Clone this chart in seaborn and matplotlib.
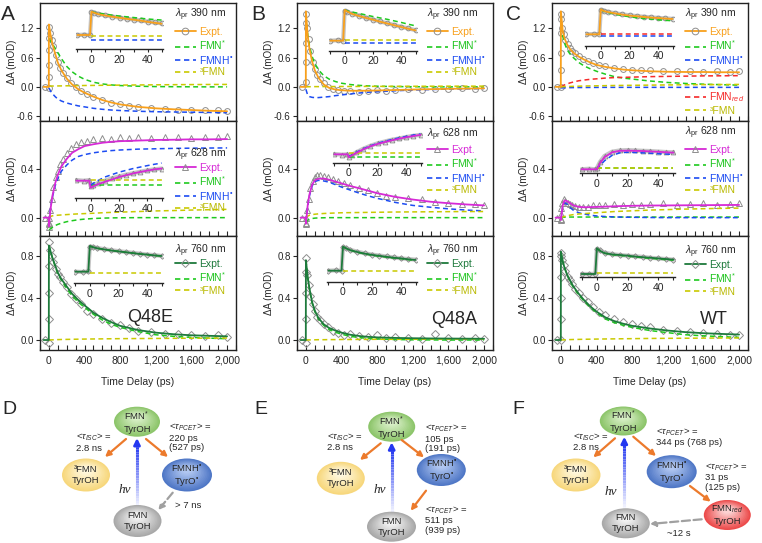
import numpy as np
import matplotlib
matplotlib.use('Agg')
import matplotlib.pyplot as plt
import seaborn as sns
from matplotlib.lines import Line2D
from matplotlib.patches import Ellipse
from matplotlib.ticker import FuncFormatter, MultipleLocator, FixedLocator
from matplotlib.collections import LineCollection
from matplotlib.colors import to_rgb

# ---- time grids (ps) ----
t_main = [-60, -1, 0, 20, 40, 70, 100, 140, 200, 260, 330, 400, 500, 600, 700, 800,
          1000, 1200, 1400, 1600, 1800, 2000]
t_comp = t_main[2:]
t_mark = [-40, 0, 15, 30, 50, 75, 100, 130, 160, 200, 250, 300, 360, 430, 500, 600, 700,
          800, 900, 1000, 1150, 1300, 1450, 1600, 1750, 1900, 2000]
t_inset = [-10, -5, -1, 0, 2, 5, 10, 15, 20, 25, 30, 35, 40, 45, 50]
t_inset_comp = t_inset[3:]

# ---- Q48E ----
a390_fit = [0, 0, 1.28, 1.05, 0.88, 0.68, 0.5, 0.34, 0.17, 0.05, -0.05, -0.12, -0.2, -0.27, -0.32, -0.36, -0.41, -0.44, -0.46, -0.475, -0.49, -0.50]
a390_pts = [0.0, 1.22, 1.1, 0.97, 0.83, 0.66, 0.52, 0.38, 0.28, 0.18, 0.07, 0.0, -0.08, -0.15, -0.21, -0.27, -0.33, -0.36, -0.39, -0.41, -0.43, -0.45, -0.47, -0.47, -0.48, -0.48, -0.49]
a390_rise = [-0.03, 0.2, 0.45, 0.75, 1.0]
a390_fmn = [1.0, 0.94, 0.88, 0.79, 0.7, 0.58, 0.42, 0.31, 0.22, 0.155, 0.095, 0.06, 0.04, 0.027, 0.013, 0.006, 0.003, 0.001, 0.0, 0.0]
a390_fmnh = [-0.02, -0.09, -0.14, -0.2, -0.25, -0.29, -0.33, -0.36, -0.39, -0.41, -0.44, -0.46, -0.475, -0.485, -0.5, -0.51, -0.515, -0.52, -0.525, -0.53]
a390_t3 = [0.015, 0.016, 0.017, 0.018, 0.019, 0.02, 0.022, 0.024, 0.026, 0.028, 0.03, 0.032, 0.034, 0.036, 0.039, 0.042, 0.045, 0.047, 0.049, 0.05]
a390_in_fit = [0, 0, 0, 1.28, 1.22, 1.14, 1.07, 1.0, 0.95, 0.89, 0.84, 0.79, 0.72, 0.67, 0.62]
a390_in_pts = [0.0, 0.02, -0.01, 1.25, 1.23, 1.15, 1.08, 1.01, 0.96, 0.9, 0.85, 0.8, 0.74, 0.69, 0.64]
a390_in_fmn = [1.28, 1.24, 1.2, 1.14, 1.09, 1.04, 1.0, 0.96, 0.92, 0.88, 0.85, 0.82]
a390_in_fmnh = [-0.25, -0.25, -0.25, -0.25, -0.25, -0.25, -0.25, -0.25, -0.25, -0.25, -0.25, -0.25]
a390_in_t3 = [-0.04, -0.04, -0.04, -0.04, -0.04, -0.04, -0.04, -0.04, -0.04, -0.04, -0.04, -0.04]

a628_fit = [0, 0, -0.07, 0.08, 0.18, 0.28, 0.35, 0.42, 0.48, 0.53, 0.56, 0.585, 0.6, 0.612, 0.62, 0.625, 0.63, 0.635, 0.637, 0.64, 0.64, 0.642]
a628_pts = [0.0, -0.05, 0.06, 0.15, 0.25, 0.33, 0.38, 0.44, 0.48, 0.53, 0.57, 0.6, 0.62, 0.63, 0.64, 0.65, 0.645, 0.66, 0.65, 0.66, 0.65, 0.66, 0.66, 0.65, 0.66, 0.66, 0.67]
a628_rise = [-0.08, -0.04, 0.0]
a628_fmn = [-0.10, -0.09, -0.08, -0.065, -0.055, -0.045, -0.033, -0.025, -0.017, -0.012, -0.007, -0.004, -0.002, -0.001, 0.0, 0.0, 0.0, 0.0, 0.0, 0.0]
a628_fmnh = [-0.03, 0.09, 0.17, 0.26, 0.32, 0.38, 0.43, 0.47, 0.5, 0.515, 0.53, 0.54, 0.548, 0.553, 0.56, 0.563, 0.566, 0.568, 0.569, 0.57]
a628_t3 = [0.0, 0.01, 0.015, 0.018, 0.02, 0.022, 0.025, 0.028, 0.031, 0.033, 0.036, 0.04, 0.043, 0.045, 0.05, 0.055, 0.058, 0.062, 0.065, 0.068]
a628_in_fit = [0, 0, 0, -0.058, -0.045, -0.03, -0.01, 0.01, 0.03, 0.045, 0.06, 0.072, 0.083, 0.093, 0.10]
a628_in_pts = [0.005, 0.0, 0.005, -0.045, -0.035, -0.02, 0.0, 0.02, 0.035, 0.05, 0.062, 0.074, 0.085, 0.094, 0.1]
a628_in_fmn = [-0.035, -0.035, -0.035, -0.035, -0.035, -0.035, -0.035, -0.035, -0.035, -0.035, -0.035, -0.035]
a628_in_fmnh = [-0.035, -0.02, 0.0, 0.03, 0.05, 0.07, 0.085, 0.1, 0.112, 0.124, 0.135, 0.145]
a628_in_t3 = [0.005, 0.005, 0.005, 0.005, 0.005, 0.005, 0.005, 0.005, 0.005, 0.005, 0.005, 0.005]

a760_fit = [0, 0, 0.90, 0.84, 0.78, 0.71, 0.64, 0.58, 0.51, 0.44, 0.38, 0.33, 0.26, 0.21, 0.17, 0.135, 0.095, 0.07, 0.055, 0.045, 0.04, 0.035]
a760_pts = [0.0, 0.93, 0.86, 0.8, 0.74, 0.68, 0.63, 0.6, 0.55, 0.5, 0.44, 0.39, 0.34, 0.28, 0.25, 0.2, 0.16, 0.14, 0.11, 0.09, 0.08, 0.06, 0.06, 0.05, 0.04, 0.05, 0.03]
a760_rise = [-0.03, 0.2, 0.45, 0.7]
a760_fmn = [0.90, 0.84, 0.78, 0.7, 0.63, 0.57, 0.49, 0.42, 0.36, 0.31, 0.245, 0.19, 0.15, 0.12, 0.08, 0.05, 0.035, 0.025, 0.018, 0.012]
a760_t3 = [0.0, 0.001, 0.002, 0.003, 0.004, 0.005, 0.006, 0.007, 0.008, 0.009, 0.01, 0.011, 0.012, 0.013, 0.014, 0.015, 0.016, 0.017, 0.018, 0.019]
a760_in_fit = [0, 0, 0, 0.9, 0.86, 0.82, 0.78, 0.74, 0.71, 0.68, 0.65, 0.62, 0.6, 0.57, 0.55]
a760_in_pts = [0.0, -0.01, 0.01, 0.88, 0.87, 0.83, 0.79, 0.75, 0.72, 0.69, 0.66, 0.63, 0.6, 0.58, 0.55]
a760_in_fmn = [0.9, 0.86, 0.82, 0.78, 0.74, 0.71, 0.68, 0.65, 0.62, 0.59, 0.57, 0.54]
a760_in_t3 = [-0.03, -0.03, -0.03, -0.03, -0.03, -0.03, -0.03, -0.03, -0.03, -0.03, -0.03, -0.03]

# ---- Q48A ----
b390_fit = [0, 0, 1.55, 1.05, 0.78, 0.52, 0.34, 0.19, 0.05, -0.02, -0.055, -0.07, -0.08, -0.08, -0.078, -0.074, -0.065, -0.055, -0.047, -0.04, -0.035, -0.03]
b390_pts = [0.0, 1.5, 1.2, 0.98, 0.74, 0.52, 0.36, 0.24, 0.16, 0.07, 0.0, -0.04, -0.06, -0.08, -0.08, -0.1, -0.08, -0.07, -0.09, -0.06, -0.05, -0.07, -0.04, -0.05, -0.03, -0.04, -0.03]
b390_rise = [0.1, 0.5, 0.9, 1.3]
b390_fmn = [1.45, 1.08, 0.84, 0.62, 0.48, 0.35, 0.23, 0.16, 0.11, 0.075, 0.047, 0.03, 0.02, 0.013, 0.006, 0.003, 0.001, 0.0, 0.0, 0.0]
b390_fmnh = [-0.05, -0.17, -0.2, -0.215, -0.22, -0.22, -0.21, -0.2, -0.18, -0.165, -0.145, -0.125, -0.11, -0.1, -0.08, -0.065, -0.055, -0.045, -0.04, -0.035]
b390_t3 = [0.0, 0.002, 0.003, 0.004, 0.005, 0.005, 0.006, 0.006, 0.007, 0.008, 0.008, 0.009, 0.01, 0.01, 0.011, 0.012, 0.013, 0.014, 0.014, 0.015]
b390_in_fit = [0, 0, 0, 1.55, 1.47, 1.36, 1.25, 1.15, 1.06, 0.96, 0.87, 0.78, 0.69, 0.6, 0.52]
b390_in_pts = [0.0, 0.02, 0.0, 1.5, 1.46, 1.37, 1.27, 1.16, 1.07, 0.97, 0.88, 0.79, 0.7, 0.62, 0.53]
b390_in_fmn = [1.55, 1.5, 1.45, 1.38, 1.3, 1.22, 1.15, 1.08, 1.0, 0.92, 0.83, 0.75]
b390_in_fmnh = [-0.1, -0.1, -0.1, -0.1, -0.1, -0.1, -0.1, -0.1, -0.1, -0.1, -0.1, -0.1]
b390_in_t3 = [0.03, 0.03, 0.03, 0.03, 0.03, 0.03, 0.03, 0.03, 0.03, 0.03, 0.03, 0.03]

b628_fit = [0, 0, -0.05, 0.1, 0.19, 0.27, 0.305, 0.318, 0.32, 0.31, 0.295, 0.28, 0.258, 0.24, 0.22, 0.2, 0.17, 0.148, 0.13, 0.118, 0.108, 0.1]
b628_pts = [0.0, -0.04, 0.06, 0.15, 0.24, 0.3, 0.33, 0.345, 0.35, 0.34, 0.33, 0.32, 0.3, 0.28, 0.27, 0.24, 0.23, 0.2, 0.18, 0.17, 0.16, 0.15, 0.13, 0.12, 0.11, 0.11, 0.1]
b628_rise = [-0.05, 0.0]
b628_fmn = [-0.04, -0.02, -0.012, -0.007, -0.004, -0.002, -0.001, 0.0, 0.0, 0.0, 0.0, 0.0, 0.0, 0.0, 0.0, 0.0, 0.0, 0.0, 0.0, 0.0]
b628_fmnh = [-0.03, 0.09, 0.18, 0.26, 0.295, 0.305, 0.3, 0.29, 0.27, 0.25, 0.225, 0.2, 0.178, 0.158, 0.125, 0.1, 0.085, 0.072, 0.062, 0.055]
b628_t3 = [0.0, 0.012, 0.02, 0.025, 0.028, 0.031, 0.034, 0.036, 0.038, 0.04, 0.041, 0.042, 0.043, 0.044, 0.046, 0.047, 0.048, 0.049, 0.05, 0.05]
b628_in_fit = [0, 0, 0, -0.025, -0.01, 0.01, 0.04, 0.065, 0.085, 0.1, 0.115, 0.128, 0.14, 0.15, 0.16]
b628_in_pts = [0.003, -0.003, 0.0, -0.02, -0.005, 0.015, 0.045, 0.07, 0.09, 0.105, 0.12, 0.13, 0.142, 0.152, 0.16]
b628_in_fmn = [-0.02, -0.02, -0.02, -0.02, -0.02, -0.02, -0.02, -0.02, -0.02, -0.02, -0.02, -0.02]
b628_in_fmnh = [-0.02, -0.005, 0.015, 0.045, 0.07, 0.09, 0.107, 0.122, 0.135, 0.147, 0.158, 0.167]
b628_in_t3 = [0.008, 0.008, 0.008, 0.008, 0.008, 0.008, 0.008, 0.008, 0.008, 0.008, 0.008, 0.008]

b760_fit = [0, 0, 0.76, 0.6, 0.49, 0.36, 0.28, 0.21, 0.15, 0.115, 0.09, 0.07, 0.05, 0.038, 0.03, 0.025, 0.02, 0.017, 0.015, 0.014, 0.013, 0.012]
b760_pts = [0.0, 0.78, 0.62, 0.52, 0.42, 0.34, 0.28, 0.22, 0.19, 0.15, 0.12, 0.09, 0.07, 0.05, 0.06, 0.04, 0.03, 0.05, 0.02, 0.03, 0.02, 0.01, 0.06, 0.02, 0.01, 0.02, 0.01]
b760_rise = [-0.03, 0.2, 0.45, 0.65]
b760_fmn = [0.76, 0.6, 0.48, 0.35, 0.27, 0.2, 0.14, 0.1, 0.075, 0.055, 0.035, 0.023, 0.015, 0.01, 0.005, 0.002, 0.001, 0.0, 0.0, 0.0]
b760_t3 = [0.0, 0.001, 0.001, 0.002, 0.002, 0.003, 0.003, 0.004, 0.004, 0.005, 0.005, 0.006, 0.006, 0.007, 0.007, 0.008, 0.008, 0.009, 0.009, 0.01]
b760_in_fit = [0, 0, 0, 0.76, 0.71, 0.65, 0.59, 0.54, 0.5, 0.47, 0.44, 0.41, 0.39, 0.36, 0.34]
b760_in_pts = [0.0, 0.01, 0.0, 0.74, 0.72, 0.66, 0.6, 0.55, 0.51, 0.48, 0.45, 0.42, 0.39, 0.37, 0.35]
b760_in_fmn = [0.76, 0.71, 0.65, 0.58, 0.53, 0.49, 0.46, 0.43, 0.4, 0.38, 0.35, 0.33]
b760_in_t3 = [0.0, 0.0, 0.0, 0.0, 0.0, 0.0, 0.0, 0.0, 0.0, 0.0, 0.0, 0.0]

# ---- WT ----
c390_fit = [0, 0, 1.55, 1.15, 1.0, 0.87, 0.78, 0.7, 0.62, 0.56, 0.5, 0.45, 0.41, 0.38, 0.355, 0.34, 0.32, 0.31, 0.305, 0.305, 0.3, 0.3]
c390_pts = [0.0, 1.5, 1.2, 1.08, 0.97, 0.87, 0.8, 0.74, 0.69, 0.63, 0.58, 0.53, 0.49, 0.45, 0.42, 0.39, 0.37, 0.35, 0.34, 0.34, 0.33, 0.32, 0.33, 0.31, 0.32, 0.31, 0.32]
c390_rise = [0.0, 0.35, 0.7, 1.1, 1.4]
c390_fmn = [1.4, 1.05, 0.9, 0.76, 0.68, 0.6, 0.5, 0.43, 0.37, 0.32, 0.26, 0.21, 0.18, 0.16, 0.12, 0.09, 0.07, 0.055, 0.045, 0.035]
c390_fmnh = [-0.02, -0.02, -0.02, -0.018, -0.016, -0.015, -0.014, -0.013, -0.012, -0.011, -0.01, -0.01, -0.01, -0.01, -0.01, -0.01, -0.01, -0.01, -0.01, -0.01]
c390_red = [0.0, 0.02, 0.04, 0.06, 0.08, 0.1, 0.125, 0.14, 0.155, 0.165, 0.18, 0.19, 0.195, 0.2, 0.21, 0.215, 0.22, 0.225, 0.227, 0.23]
c390_t3 = [0.0, 0.003, 0.005, 0.007, 0.009, 0.011, 0.014, 0.017, 0.02, 0.022, 0.025, 0.028, 0.03, 0.032, 0.036, 0.04, 0.043, 0.046, 0.048, 0.05]
c390_in_fit = [0, 0, 0, 1.55, 1.45, 1.38, 1.3, 1.22, 1.16, 1.12, 1.08, 1.04, 1.01, 0.98, 0.95]
c390_in_pts = [0.0, 0.02, 0.01, 1.52, 1.46, 1.39, 1.31, 1.24, 1.18, 1.13, 1.09, 1.05, 1.02, 0.99, 0.96]
c390_in_fmn = [1.55, 1.43, 1.35, 1.25, 1.16, 1.09, 1.03, 0.98, 0.94, 0.9, 0.87, 0.84]
c390_in_fmnh = [-0.08, -0.08, -0.08, -0.08, -0.08, -0.08, -0.08, -0.08, -0.08, -0.08, -0.08, -0.08]
c390_in_red = [0.02, 0.02, 0.02, 0.02, 0.02, 0.02, 0.02, 0.02, 0.02, 0.02, 0.02, 0.02]

c628_fit = [0, 0, -0.02, 0.1, 0.14, 0.135, 0.12, 0.1, 0.088, 0.085, 0.086, 0.088, 0.09, 0.093, 0.095, 0.097, 0.099, 0.1, 0.101, 0.102, 0.103, 0.104]
c628_pts = [0.0, -0.01, 0.12, 0.15, 0.14, 0.12, 0.11, 0.1, 0.095, 0.09, 0.09, 0.09, 0.1, 0.1, 0.1, 0.11, 0.1, 0.11, 0.1, 0.11, 0.12, 0.1, 0.11, 0.12, 0.1, 0.11, 0.12]
c628_rise = [-0.02, 0.03, 0.08]
c628_fmn = [0.0, 0.003, 0.004, 0.005, 0.005, 0.005, 0.005, 0.005, 0.005, 0.005, 0.005, 0.005, 0.005, 0.005, 0.005, 0.005, 0.005, 0.005, 0.005, 0.005]
c628_fmnh = [-0.02, 0.09, 0.12, 0.11, 0.085, 0.06, 0.04, 0.03, 0.02, 0.014, 0.009, 0.006, 0.004, 0.003, 0.001, 0.0, 0.0, 0.0, 0.0, 0.0]
c628_t3 = [0.0, 0.005, 0.01, 0.015, 0.02, 0.025, 0.03, 0.033, 0.037, 0.04, 0.045, 0.05, 0.053, 0.056, 0.062, 0.066, 0.07, 0.073, 0.076, 0.078]
c628_in_fit = [0, 0, 0, 0.0, 0.05, 0.1, 0.14, 0.152, 0.153, 0.152, 0.15, 0.147, 0.144, 0.14, 0.137]
c628_in_pts = [0.0, 0.005, 0.0, 0.01, 0.06, 0.11, 0.145, 0.155, 0.158, 0.155, 0.152, 0.15, 0.146, 0.142, 0.14]
c628_in_fmn = [0.008, 0.008, 0.008, 0.008, 0.008, 0.008, 0.008, 0.008, 0.008, 0.008, 0.008, 0.008]
c628_in_fmnh = [0.0, 0.03, 0.07, 0.115, 0.135, 0.14, 0.138, 0.135, 0.132, 0.128, 0.125, 0.123]
c628_in_t3 = [0.013, 0.013, 0.013, 0.013, 0.013, 0.013, 0.013, 0.013, 0.013, 0.013, 0.013, 0.013]

c760_fit = [0, 0, 0.84, 0.75, 0.69, 0.62, 0.57, 0.51, 0.44, 0.38, 0.32, 0.27, 0.215, 0.18, 0.155, 0.135, 0.11, 0.09, 0.075, 0.065, 0.058, 0.052]
c760_pts = [0.0, 0.83, 0.76, 0.71, 0.66, 0.6, 0.57, 0.53, 0.49, 0.45, 0.4, 0.36, 0.31, 0.27, 0.24, 0.2, 0.17, 0.15, 0.13, 0.12, 0.1, 0.09, 0.08, 0.07, 0.06, 0.05, 0.05]
c760_rise = [0.0, 0.2, 0.4, 0.6, 0.8]
c760_fmn = [0.84, 0.75, 0.69, 0.62, 0.56, 0.5, 0.43, 0.37, 0.31, 0.26, 0.2, 0.165, 0.14, 0.12, 0.09, 0.07, 0.05, 0.04, 0.032, 0.025]
c760_t3 = [0.0, 0.001, 0.002, 0.003, 0.004, 0.005, 0.006, 0.007, 0.008, 0.009, 0.01, 0.011, 0.012, 0.013, 0.015, 0.016, 0.017, 0.018, 0.019, 0.02]
c760_in_fit = [0, 0, 0, 0.84, 0.76, 0.68, 0.64, 0.62, 0.6, 0.57, 0.55, 0.53, 0.51, 0.49, 0.47]
c760_in_pts = [0.0, 0.0, 0.01, 0.82, 0.77, 0.7, 0.65, 0.62, 0.6, 0.58, 0.56, 0.53, 0.51, 0.49, 0.47]
c760_in_fmn = [0.84, 0.76, 0.68, 0.63, 0.61, 0.58, 0.56, 0.53, 0.51, 0.49, 0.47, 0.45]
c760_in_t3 = [0.02, 0.02, 0.02, 0.02, 0.02, 0.02, 0.02, 0.02, 0.02, 0.02, 0.02, 0.02]

WAVES = [390, 628, 760]
VARIANTS = ['Q48E', 'Q48A', 'WT']

# ---- styles ----
C_OR, C_MAG, C_DKG = '#f8a01c', '#d62ad6', '#1e7a3c'
C_GRN, C_BLU, C_YEL, C_RED = '#1fc91f', '#1d4cf2', '#c9c900', '#f52a2a'
C_PTS = '#8e8e8e'
EXPT = {390: (C_OR, 'o', 4.2), 628: (C_MAG, '^', 4.2), 760: (C_DKG, 'D', 3.6)}
SERIES = {'fmn': (C_GRN, 'FMN$^{*}$', '#1cc41c'),
          'fmnh': (C_BLU, 'FMNH$^{•}$', C_BLU),
          't3': (C_YEL, '³FMN', '#b9b900'),
          'red': (C_RED, 'FMN$_{red}$', C_RED)}

def pack(fit, pts, rise, comps, in_fit, in_pts, in_comps):
    return dict(fit=fit, pts=pts, rise=rise, comps=comps,
                inset=dict(fit=in_fit, pts=in_pts, comps=in_comps))

PANELS = {
    'A': [pack(a390_fit, a390_pts, a390_rise, [('fmn', a390_fmn), ('fmnh', a390_fmnh), ('t3', a390_t3)],
               a390_in_fit, a390_in_pts, [('fmn', a390_in_fmn), ('fmnh', a390_in_fmnh), ('t3', a390_in_t3)]),
          pack(a628_fit, a628_pts, a628_rise, [('fmn', a628_fmn), ('fmnh', a628_fmnh), ('t3', a628_t3)],
               a628_in_fit, a628_in_pts, [('fmn', a628_in_fmn), ('fmnh', a628_in_fmnh), ('t3', a628_in_t3)]),
          pack(a760_fit, a760_pts, a760_rise, [('fmn', a760_fmn), ('t3', a760_t3)],
               a760_in_fit, a760_in_pts, [('fmn', a760_in_fmn), ('t3', a760_in_t3)])],
    'B': [pack(b390_fit, b390_pts, b390_rise, [('fmn', b390_fmn), ('fmnh', b390_fmnh), ('t3', b390_t3)],
               b390_in_fit, b390_in_pts, [('fmn', b390_in_fmn), ('fmnh', b390_in_fmnh), ('t3', b390_in_t3)]),
          pack(b628_fit, b628_pts, b628_rise, [('fmn', b628_fmn), ('fmnh', b628_fmnh), ('t3', b628_t3)],
               b628_in_fit, b628_in_pts, [('fmn', b628_in_fmn), ('fmnh', b628_in_fmnh), ('t3', b628_in_t3)]),
          pack(b760_fit, b760_pts, b760_rise, [('fmn', b760_fmn), ('t3', b760_t3)],
               b760_in_fit, b760_in_pts, [('fmn', b760_in_fmn), ('t3', b760_in_t3)])],
    'C': [pack(c390_fit, c390_pts, c390_rise, [('fmn', c390_fmn), ('fmnh', c390_fmnh), ('red', c390_red), ('t3', c390_t3)],
               c390_in_fit, c390_in_pts, [('fmn', c390_in_fmn), ('fmnh', c390_in_fmnh), ('red', c390_in_red)]),
          pack(c628_fit, c628_pts, c628_rise, [('fmn', c628_fmn), ('fmnh', c628_fmnh), ('t3', c628_t3)],
               c628_in_fit, c628_in_pts, [('fmn', c628_in_fmn), ('fmnh', c628_in_fmnh), ('t3', c628_in_t3)]),
          pack(c760_fit, c760_pts, c760_rise, [('fmn', c760_fmn), ('t3', c760_t3)],
               c760_in_fit, c760_in_pts, [('fmn', c760_in_fmn), ('t3', c760_in_t3)])],
}

# ---- layout (pixels) ----
W, H = 762, 543
COL_X = {'A': 40, 'B': 297, 'C': 552}
PW = 196
ROWS = [(3, 121), (121, 236), (236, 350)]
YLIMS = [(-0.70, 1.72), (-0.15, 0.79), (-0.095, 0.99)]
YTICKS = [[-0.6, 0.0, 0.6, 1.2], [0.0, 0.4], [0.0, 0.4, 0.8]]
# inset: x0, x1, y_axis, y_top, y_of_zero, px per unit
INSET = {'A': [(76, 163, 49, 8, 35, 18.2), (75, 163, 198, 160, 180.7, 121.75), (74, 163, 283.3, 240, 271.7, 28.6)],
         'B': [(329, 417, 50.7, 8, 40.7, 19.8), (333, 422, 162.7, 130, 154.3, 121.75), (327, 417, 281.7, 240, 270.7, 31.6)],
         'C': [(585, 674, 45.7, 6, 34.3, 16.1), (580, 675, 173.3, 140, 169.3, 121.75), (580, 675, 277.3, 240, 274, 30.6)]}
# legend: title x, title y, first entry y
LEG = {'A': [(175, 15, 33), (175, 155, 169), (175, 251, 265)],
       'B': [(427, 15, 33), (427, 135, 151), (427, 251, 265)],
       'C': [(685, 15, 33), (685, 133, 151), (685, 252, 266)]}
NAME_XY = {'A': (150, 318), 'B': (454, 320), 'C': (714, 320)}

sns.set_theme(style='ticks', context='paper')
plt.rcParams['font.family'] = ['Liberation Sans', 'DejaVu Sans']
plt.rcParams.update({'mathtext.fontset': 'custom', 'mathtext.rm': 'Liberation Sans',
                     'mathtext.it': 'Liberation Sans:italic', 'mathtext.bf': 'Liberation Sans:bold',
                     'axes.linewidth': 1.0})

FS = 7.5
fig = plt.figure(figsize=(W / 100, H / 100), dpi=100)


def rect(x0, yt, x1, yb):
    return [x0 / W, 1 - yb / H, (x1 - x0) / W, (yb - yt) / H]


def line(ax, x, y, color, dashed=False, lw=1.3, z=3):
    ls = (0, (3.2, 2.2)) if dashed else '-'
    sns.lineplot(x=x, y=y, ax=ax, color=color, linewidth=lw, linestyle=ls,
                 sort=False, estimator=None, legend=False, zorder=z)


def dots(ax, x, y, marker, ms, z=2):
    sns.lineplot(x=x, y=y, ax=ax, color=C_PTS, linestyle='none', marker=marker,
                 markersize=ms, markerfacecolor='none', markeredgecolor=C_PTS,
                 markeredgewidth=0.7, sort=False, estimator=None, legend=False, zorder=z)


for letter in 'ABC':
    x0 = COL_X[letter]
    for ri, wl in enumerate(WAVES):
        yt, yb = ROWS[ri]
        p = PANELS[letter][ri]
        ecol, emark, ems = EXPT[wl]
        ax = fig.add_axes(rect(x0, yt, x0 + PW, yb))
        dots(ax, t_mark, p['pts'], emark, ems)
        dots(ax, [0] * len(p['rise']), p['rise'], emark, ems)
        for key, vals in p['comps']:
            line(ax, t_comp, vals, SERIES[key][0], dashed=True, lw=1.1, z=2.5)
        line(ax, t_main, p['fit'], ecol)
        ax.set_xlim(-100, 2100)
        ax.set_ylim(*YLIMS[ri])
        ax.set_yticks(YTICKS[ri])
        ax.yaxis.set_major_formatter(FuncFormatter(lambda v, _: f'{v:.1f}'))
        ax.xaxis.set_major_locator(FixedLocator([0, 400, 800, 1200, 1600, 2000]))
        ax.xaxis.set_minor_locator(MultipleLocator(100))
        ax.xaxis.set_major_formatter(FuncFormatter(lambda v, _: f'{int(v):,}'))
        ax.tick_params(axis='x', which='both', direction='in', length=3.5, width=0.8,
                       labelsize=FS, pad=4, labelbottom=(ri == 2))
        ax.tick_params(axis='y', direction='out', length=3, width=0.8, labelsize=7, pad=1.5)
        for s in ax.spines.values():
            s.set_linewidth(1.0)
            s.set_color('#222222')
        ax.set_ylabel('ΔA (mOD)', fontsize=7)
        ax.yaxis.set_label_coords(-0.115, 0.5)
        ax.set_xlabel('')

        # legend
        lx, ly_t, ly_f = LEG[letter][ri]
        fig.text(lx / W, 1 - ly_t / H, r'$\lambda_{\rm pr}$ ' + f'{wl} nm', fontsize=FS,
                 va='center', ha='left')
        handles = [Line2D([], [], color=ecol, lw=1.3, marker=emark, ms=ems + 0.6,
                          mfc='none', mec=C_PTS, mew=0.7)]
        labels, lcols = ['Expt.'], [ecol]
        for key, _ in p['comps']:
            if key == 'red':
                handles += [Line2D([], [], lw=0), Line2D([], [], lw=0)]
                labels += [' ', ' ']
                lcols += ['k', 'k']
            handles.append(Line2D([], [], color=SERIES[key][0], lw=1.2, ls=(0, (3.2, 2.2))))
            labels.append(SERIES[key][1])
            lcols.append(SERIES[key][2])
        ax.legend(handles, labels, loc='upper left', bbox_to_anchor=(lx / W, 1 - (ly_f - 6) / H),
                  bbox_transform=fig.transFigure, frameon=False, fontsize=FS, labelcolor=lcols,
                  handlelength=2.0, handletextpad=0.35, labelspacing=0.15, borderpad=0,
                  borderaxespad=0)

        # inset
        ix0, ix1, iyb, iyt, iy0, isc = INSET[letter][ri]
        iax = fig.add_axes(rect(ix0, iyt, ix1, iyb))
        iax.patch.set_alpha(0)
        ip = p['inset']
        line(iax, t_inset, ip['pts'], '#c6c6c6', lw=3.0, z=1)
        dots(iax, t_inset, ip['pts'], emark, ems - 0.8)
        for key, vals in ip['comps']:
            line(iax, t_inset_comp, vals, SERIES[key][0], dashed=True, lw=1.1, z=2.5)
        line(iax, t_inset, ip['fit'], ecol)
        iax.set_xlim(-11, 51)
        iax.set_ylim(-(iyb - iy0) / isc, (iy0 - iyt) / isc)
        for s in ('left', 'right', 'top'):
            iax.spines[s].set_visible(False)
        iax.spines['bottom'].set_linewidth(1.0)
        iax.set_yticks([])
        iax.set_xticks([0, 20, 40])
        iax.xaxis.set_minor_locator(FixedLocator([-10, 10, 30, 50]))
        iax.tick_params(axis='x', which='both', direction='out', length=2.5, width=0.8,
                        labelsize=FS, pad=1.5)
        iax.set_xlabel('')
        iax.set_ylabel('')

    fig.text((x0 + PW / 2) / W, 1 - 382 / H, 'Time Delay (ps)', ha='center', va='center', fontsize=FS)
    nx, ny = NAME_XY[letter]
    fig.text(nx / W, 1 - ny / H, VARIANTS['ABC'.index(letter)], ha='center', va='center', fontsize=13)

for letter, (px, py) in zip('ABC', [(1, 15), (251, 15), (506, 15)]):
    fig.text(px / W, 1 - py / H, letter, fontsize=15, va='center', ha='left')

# ---- kinetic schemes D-F ----
ax_s = fig.add_axes([0, 0, 1, 150 / H])
ax_s.set_xlim(0, W)
ax_s.set_ylim(H, H - 150)
ax_s.axis('off')
ax_s.patch.set_alpha(0)

BLOB_COL = {'green': ('#8cc56a', '#d8efc6'), 'yellow': ('#f7d77c', '#fff8dd'),
            'blue': ('#4f77c6', '#b0c6f0'), 'gray': ('#a8a8a8', '#f2f2f2'),
            'red': ('#ec4a4a', '#fcd2d2')}


def blob(x, y, w, h, kind, text, n=14):
    co, ci = np.array(to_rgb(BLOB_COL[kind][0])), np.array(to_rgb(BLOB_COL[kind][1]))
    for i in range(n):
        f = i / (n - 1)
        s = 1 - 0.8 * f
        ax_s.add_patch(Ellipse((x, y - 0.15 * h * f), w * s, h * s, fc=co * (1 - f) + ci * f,
                               ec='none', zorder=2))
    ax_s.text(x, y, text, ha='center', va='center', fontsize=6.8, zorder=3, linespacing=1.25)


def arrow(p0, p1, color='#ec7a2c', dashed=False):
    ax_s.annotate('', xy=p1, xytext=p0, zorder=4,
                  arrowprops=dict(arrowstyle='-|>', color=color, lw=1.6, mutation_scale=8,
                                  shrinkA=0, shrinkB=0, linestyle='--' if dashed else '-'))


def photon(x, y0, y1):
    n = 24
    ys = [y0 + (y1 + 6 - y0) * i / n for i in range(n + 1)]
    c0, c1 = np.array(to_rgb('#eef0ff')), np.array(to_rgb('#2438f0'))
    segs = [[(x, ys[i]), (x, ys[i + 1])] for i in range(n)]
    cols = [c0 * (1 - i / (n - 1)) + c1 * (i / (n - 1)) for i in range(n)]
    ax_s.add_collection(LineCollection(segs, colors=cols, linewidths=2.2, zorder=1))
    ax_s.annotate('', xy=(x, y1), xytext=(x, y1 + 7), zorder=4,
                  arrowprops=dict(arrowstyle='-|>', color='#2438f0', lw=2, mutation_scale=9,
                                  shrinkA=0, shrinkB=0))


TXT = 6.8
HNU = dict(fontsize=9.5, family='Liberation Serif', style='italic', ha='center', va='center')
RAD = 'FMNH$^{•}$\nTyrO$^{•}$'

# D
blob(137, 421.7, 46, 30, 'green', 'FMN$^{*}$\nTyrOH')
blob(86, 475, 48, 33, 'yellow', '³FMN\nTyrOH')
blob(187, 475, 50, 33, 'blue', RAD)
blob(137.5, 521, 48, 32, 'gray', 'FMN\nTyrOH')
photon(137, 506, 438)
ax_s.text(125, 490, 'hν', **HNU)
arrow((126, 439), (105, 457))
arrow((146, 439), (168, 457))
arrow((172.7, 492.7), (158.3, 510), color='#a0a0a0', dashed=True)
ax_s.text(76, 442, r'<$\tau_{ISC}$> =' + '\n2.8 ns', fontsize=TXT, va='center', ha='left', linespacing=1.1)
ax_s.text(169, 437, r'<$\tau_{PCET}$> =' + '\n220 ps\n(527 ps)', fontsize=TXT, va='center', ha='left', linespacing=1.1)
ax_s.text(175, 506, '> 7 ns', fontsize=TXT, va='center', ha='left')

# E
blob(391.7, 426.7, 47, 30, 'green', 'FMN$^{*}$\nTyrOH')
blob(340.8, 478.3, 48, 33, 'yellow', '³FMN\nTyrOH')
blob(441.3, 470, 49, 32, 'blue', RAD)
blob(391.5, 526.7, 49, 30, 'gray', 'FMN\nTyrOH')
photon(391.7, 511.7, 442.3)
ax_s.text(380, 490, 'hν', **HNU)
arrow((380.7, 443.3), (360, 460))
arrow((401.7, 440), (424, 457.3))
arrow((426, 490.7), (410.7, 510.7))
ax_s.text(326.7, 441.7, r'<$\tau_{ISC}$> =' + '\n2.8 ns', fontsize=TXT, va='center', ha='left', linespacing=1.1)
ax_s.text(425, 438, r'<$\tau_{PCET}$> =' + '\n105 ps\n(191 ps)', fontsize=TXT, va='center', ha='left', linespacing=1.1)
ax_s.text(425, 519.5, r'<$\tau_{PCET}$> =' + '\n511 ps\n(939 ps)', fontsize=TXT, va='center', ha='left', linespacing=1.1)

# F
blob(623.3, 421, 47, 29, 'green', 'FMN$^{*}$\nTyrOH')
blob(576, 475, 49, 33, 'yellow', '³FMN\nTyrOH')
blob(671.7, 471.7, 50, 33, 'blue', RAD)
blob(727.3, 515, 47, 30, 'red', 'FMN$_{red}$\nTyrOH')
blob(625.8, 523.3, 48, 30, 'gray', 'FMN\nTyrOH')
photon(624.3, 506.7, 436.7)
ax_s.text(611, 491.7, 'hν', **HNU)
arrow((615, 438.3), (593.3, 457.3))
arrow((633.3, 436.7), (656, 456))
arrow((690, 486), (710.7, 501.7))
arrow((701.7, 519.3), (650, 524), color='#a0a0a0', dashed=True)
ax_s.text(572.7, 441.7, r'<$\tau_{ISC}$> =' + '\n2.8 ns', fontsize=TXT, va='center', ha='left', linespacing=1.1)
ax_s.text(656, 436.7, r'<$\tau_{PCET}$> =' + '\n344 ps (768 ps)', fontsize=TXT, va='center', ha='left', linespacing=1.1)
ax_s.text(705, 476.5, r'<$\tau_{PCET}$> =' + '\n31 ps\n(125 ps)', fontsize=TXT, va='center', ha='left', linespacing=1.1)
ax_s.text(667, 534, '~12 s', fontsize=TXT, va='center', ha='left')

for letter, (px, py) in zip('DEF', [(2, 409), (254, 409), (512, 409)]):
    fig.text(px / W, 1 - py / H, letter, fontsize=14, va='center', ha='left')

fig.savefig('out.png', dpi=100)
